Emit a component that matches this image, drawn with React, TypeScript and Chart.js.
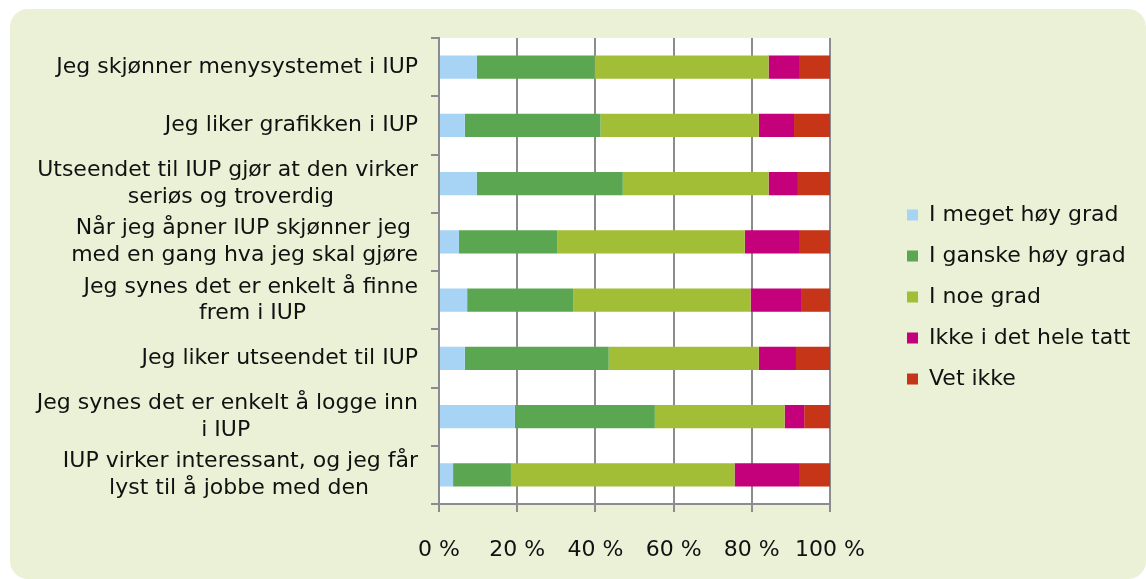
import { useEffect, useRef } from 'react';
import { Chart, registerables } from 'chart.js';

Chart.register(...registerables);

const categories: (string | string[])[] = [
  'Jeg skjønner menysystemet i IUP',
  'Jeg liker grafikken i IUP',
  ['Utseendet til IUP gjør at den virker', 'seriøs og troverdig'],
  ['Når jeg åpner IUP skjønner jeg', 'med en gang hva jeg skal gjøre'],
  ['Jeg synes det er enkelt å finne', 'frem i IUP'],
  'Jeg liker utseendet til IUP',
  ['Jeg synes det er enkelt å logge inn', 'i IUP'],
  ['IUP virker interessant, og jeg får', 'lyst til å jobbe med den'],
];

const seriesNames = [
  'I meget høy grad',
  'I ganske høy grad',
  'I noe grad',
  'Ikke i det hele tatt',
  'Vet ikke',
];

const megetHoy = [9.7, 6.6, 9.7, 5.1, 7.2, 6.6, 19.4, 3.6];
const ganskeHoy = [30.1, 34.7, 37.3, 25.1, 27.1, 36.8, 35.8, 14.8];
const noeGrad = [44.5, 40.5, 37.3, 48.0, 45.4, 38.4, 33.2, 57.2];
const ikkeIDet = [8.0, 9.0, 7.5, 14.1, 13.1, 9.5, 5.0, 16.7];
const vetIkke = [7.7, 9.2, 8.2, 7.7, 7.2, 8.7, 6.6, 7.7];

const xTickValues = [0, 20, 40, 60, 80, 100];

const seriesColors = ['#A7D4F4', '#5BA651', '#A2BE36', '#C4007A', '#C73518'];

const FONT_FAMILY = '"DejaVu Sans", Verdana, sans-serif';
const FONT_SIZE = 22;
const GRID = '#8c8c8c';
const LEGEND_BOX_X = 897;

function centerLines(label: string | string[]): string | string[] {
  if (!Array.isArray(label)) return label;
  const c = document.createElement('canvas').getContext('2d');
  if (!c) return label;
  c.font = `${FONT_SIZE}px ${FONT_FAMILY}`;
  const widths = label.map((l) => c.measureText(l).width);
  const maxW = Math.max(...widths);
  const sp = c.measureText(' ').width || 7;
  return label.map((l, i) => {
    const n = Math.round((maxW - widths[i]) / 2 / sp);
    return l + ' '.repeat(n);
  });
}

const plotBackground = {
  id: 'plotBackground',
  beforeDraw(chart: any) {
    const { ctx, chartArea } = chart;
    ctx.save();
    ctx.fillStyle = '#ffffff';
    ctx.fillRect(chartArea.left, chartArea.top, chartArea.right - chartArea.left, chartArea.bottom - chartArea.top);
    ctx.restore();
  },
};

const legendShift = {
  id: 'legendShift',
  afterLayout(chart: any) {
    const lg = chart.legend;
    if (!lg) return;
    const pad = lg.options.labels.padding;
    const shift = LEGEND_BOX_X - (lg.left + pad);
    lg.left += shift;
    lg.right += shift;
  },
};

export default function App() {
  const ref = useRef<HTMLCanvasElement>(null);

  useEffect(() => {
    if (!ref.current) return;
    const font = { family: FONT_FAMILY, size: FONT_SIZE };
    const seriesData = [megetHoy, ganskeHoy, noeGrad, ikkeIDet, vetIkke];
    const displayLabels = categories.map(centerLines);
    const chart = new Chart(ref.current, {
      type: 'bar',
      data: {
        labels: categories,
        datasets: seriesNames.map((name, i) => ({
          label: name,
          data: seriesData[i],
          backgroundColor: seriesColors[i],
          borderWidth: 0,
          barPercentage: 0.4,
          categoryPercentage: 1,
        })),
      },
      options: {
        indexAxis: 'y',
        responsive: false,
        animation: false,
        layout: { padding: { left: 0, right: 15, top: 29, bottom: 23 } },
        plugins: {
          tooltip: { enabled: false },
          legend: {
            position: 'right',
            labels: {
              boxWidth: 11,
              boxHeight: 11,
              padding: 19,
              font,
              color: '#111',
            },
          },
        },
        scales: {
          x: {
            stacked: true,
            min: 0,
            max: 100,
            afterBuildTicks: (s: any) => {
              s.ticks = xTickValues.map((v) => ({ value: v }));
            },
            ticks: {
              font,
              color: '#111',
              padding: 25,
              maxRotation: 0,
              callback: (v: any) => `${v} %`,
            },
            grid: {
              color: GRID,
              lineWidth: 2,
              drawTicks: true,
              tickLength: 8,
            },
            border: { color: GRID, width: 2 },
            afterFit: (s: any) => {
              s.paddingRight = 316;
              s.paddingLeft = 0;
              s.height = 52;
            },
          },
          y: {
            stacked: true,
            ticks: {
              font,
              color: '#111',
              padding: 13,
              callback: (_v: any, idx: number) => displayLabels[idx],
            },
            grid: {
              drawOnChartArea: false,
              drawTicks: true,
              tickLength: 8,
              color: GRID,
              lineWidth: 2,
              offset: true,
            },
            border: { color: GRID, width: 2 },
            afterFit: (s: any) => {
              s.width = 429;
              s.paddingTop = 0;
              s.paddingBottom = 0;
            },
          },
        },
      },
      plugins: [plotBackground, legendShift],
    } as any);
    return () => chart.destroy();
  }, []);

  return (
    <div
      style={{
        position: 'fixed',
        left: 10,
        top: 9,
        width: 1136,
        height: 570,
        background: '#EBF1D6',
        borderRadius: 18,
        overflow: 'hidden',
      }}
    >
      <canvas ref={ref} width={1136} height={570} style={{ display: 'block' }} />
    </div>
  );
}
